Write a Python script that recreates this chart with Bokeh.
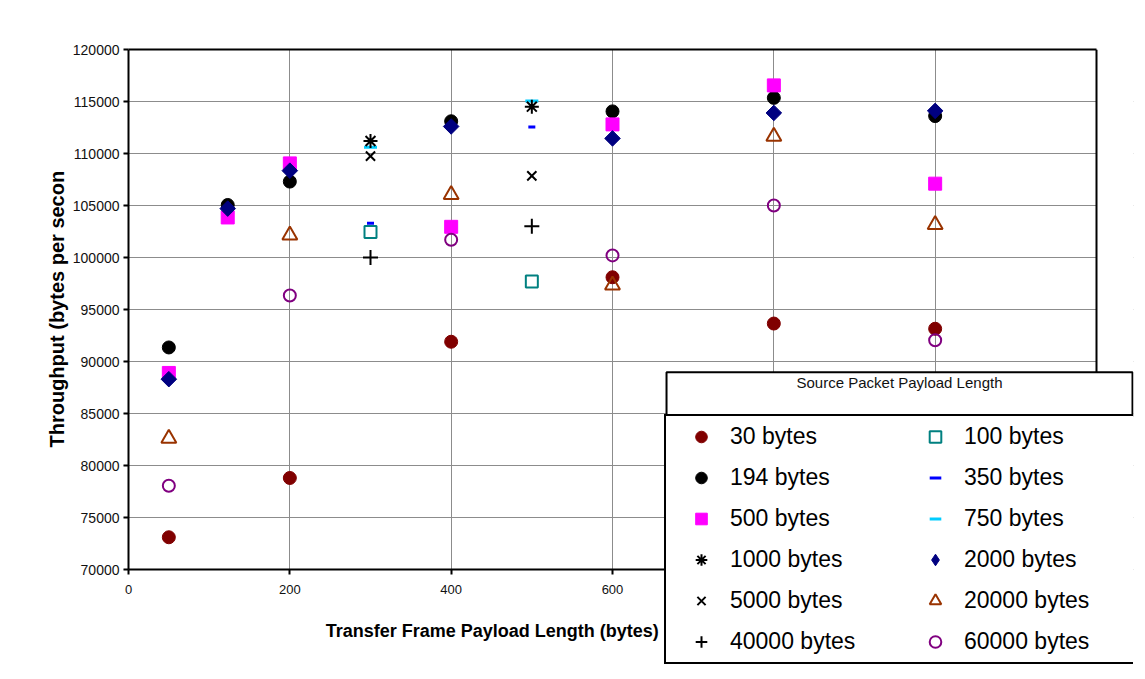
import math
from bokeh.plotting import figure
from bokeh.models import (Range1d, FixedTicker, BasicTickFormatter, Legend, LegendItem, Label,
                          LinearAxis, Grid, BoxAnnotation)
from bokeh.embed import file_html
from bokeh.resources import INLINE

# ---- data ----
x_ticks = [0, 200, 400, 600, 800, 1000, 1200]
y_ticks = [70000, 75000, 80000, 85000, 90000, 95000, 100000, 105000, 110000, 115000, 120000]

x30 = [50, 200, 400, 600, 800, 1000]
y30 = [73100, 78800, 91900, 98100, 93650, 93150]
x100 = [300, 500]
y100 = [102450, 97700]
x194 = [50, 123, 200, 400, 600, 800, 1000]
y194 = [91350, 105050, 107300, 113100, 114050, 115350, 113600]
x350 = [300, 500]
y350 = [103300, 112550]
x500 = [50, 123, 200, 400, 600, 800, 1000]
y500 = [88900, 103850, 109050, 102950, 112800, 116550, 107100]
x750 = [300, 500]
y750 = [110600, 115050]
x1000 = [300, 500]
y1000 = [111200, 114500]
x2000 = [50, 123, 200, 400, 600, 800, 1000]
y2000 = [88300, 104700, 108350, 112600, 111450, 113900, 114100]
x5000 = [300, 500]
y5000 = [109750, 107850]
x20000 = [50, 200, 400, 600, 800, 1000]
y20000 = [82600, 102150, 106050, 97350, 111650, 103150]
x40000 = [300, 500]
y40000 = [100000, 103000]
x60000 = [50, 200, 400, 600, 800, 1000]
y60000 = [78050, 96350, 101700, 100200, 105000, 92050]

FONT = "Liberation Sans"

# plot area: x 0..1200, y 70000..120000; the frame is extended so that the legend block,
# which overhangs the plot area in the reference, is not clipped
X_MIN, X_MAX, Y_MIN, Y_MAX = 0, 1200, 70000, 120000
px_per_x = 968 / 1200.0
px_per_y = 520 / 50000.0
frame_left_extra = 5
frame_right_extra = 37
frame_bottom_extra = 102

p = figure(width=1137, height=671, output_backend="svg", toolbar_location=None,
           x_range=Range1d(X_MIN - frame_left_extra / px_per_x, X_MAX + frame_right_extra / px_per_x),
           y_range=Range1d(Y_MIN - frame_bottom_extra / px_per_y, Y_MAX),
           x_axis_location=None, title_location="left",
           min_border_left=123, min_border_right=4, min_border_top=49, min_border_bottom=0,
           background_fill_color="white", border_fill_color="white")
p.outline_line_color = None

# y-axis title (as a left title so it can be centred on the plot area)
p.title.text = "Throughput (bytes per secon"
p.title.text_font = FONT
p.title.text_font_style = "bold"
p.title.text_font_size = "20px"
p.title.text_color = "black"
p.title.align = "left"
p.title.offset = 224
p.title.standoff = 3

# y ticks and labels (frame edge)
yax = p.yaxis[0]
yax.bounds = (Y_MIN, Y_MAX)
yax.ticker = FixedTicker(ticks=y_ticks)
yax.formatter = BasicTickFormatter(use_scientific=False)
yax.axis_line_color = None
yax.major_tick_line_color = "black"
yax.major_tick_line_width = 2
yax.major_tick_out = 0
yax.major_tick_in = 5
yax.minor_tick_line_color = None
yax.minor_tick_out = 0
yax.minor_tick_in = 0
yax.major_label_text_font = FONT
yax.major_label_text_font_size = "14px"
yax.major_label_text_color = "#111111"
yax.major_label_standoff = 4

# y axis line at x = 0
yline = LinearAxis(ticker=FixedTicker(ticks=[]), bounds=(Y_MIN, Y_MAX), fixed_location=X_MIN,
                   axis_line_color="black", axis_line_width=2,
                   major_tick_out=0, major_tick_in=0, minor_tick_out=0, minor_tick_in=0,
                   major_label_text_font_size="0px")
p.add_layout(yline, "left")

# top border of plot area
top_border = LinearAxis(ticker=FixedTicker(ticks=[]), bounds=(X_MIN, X_MAX),
                        axis_line_color="black", axis_line_width=2,
                        major_tick_out=0, major_tick_in=0, minor_tick_out=0, minor_tick_in=0,
                        major_label_text_font_size="0px")
p.add_layout(top_border, "above")

# x axis, drawn at y = 70000 with ticks and labels below it
xax = LinearAxis(ticker=FixedTicker(ticks=x_ticks), bounds=(X_MIN, X_MAX), fixed_location=Y_MIN,
                 axis_line_color="black", axis_line_width=2,
                 major_tick_line_color="black", major_tick_line_width=2,
                 major_tick_out=0, major_tick_in=5, minor_tick_out=0, minor_tick_in=0,
                 minor_tick_line_color=None,
                 major_label_text_font=FONT, major_label_text_font_size="13px",
                 major_label_text_color="#111111", major_label_standoff=-24)
p.add_layout(xax, "above")

# right border of plot area
right_border = LinearAxis(ticker=FixedTicker(ticks=[]), bounds=(Y_MIN, Y_MAX), fixed_location=X_MAX,
                          axis_line_color="black", axis_line_width=2,
                          major_tick_out=0, major_tick_in=0, minor_tick_out=0, minor_tick_in=0,
                          major_label_text_font_size="0px")
p.add_layout(right_border, "right")

# grids
p.ygrid.ticker = FixedTicker(ticks=y_ticks)
p.ygrid.grid_line_color = "#8c8c8c"
p.ygrid.grid_line_width = 1
xgrid = Grid(dimension=0, ticker=FixedTicker(ticks=x_ticks),
             grid_line_color="#8c8c8c", grid_line_width=1)
p.add_layout(xgrid)

# mask the grid outside the plot area
for box in (BoxAnnotation(top=Y_MIN, fill_color="white", fill_alpha=1, line_color=None, level="underlay"),
            BoxAnnotation(left=X_MAX, fill_color="white", fill_alpha=1, line_color=None, level="underlay"),
            BoxAnnotation(right=X_MIN, fill_color="white", fill_alpha=1, line_color=None, level="underlay")):
    p.add_layout(box)

r30 = p.scatter(x30, y30, marker="circle", size=13, fill_color="#800000", line_color="#800000")
r100 = p.scatter(x100, y100, marker="square", size=12, fill_color=None, line_color="#008080", line_width=2)
r194 = p.scatter(x194, y194, marker="circle", size=13, fill_color="black", line_color="black")
r350 = p.scatter(x350, y350, marker="dash", size=7, line_color="#0000FF", line_width=3)
r500 = p.scatter(x500, y500, marker="square", size=13, fill_color="#FF00FF", line_color="#FF00FF")
r750 = p.scatter(x750, y750, marker="dash", size=13, line_color="#00CCFF", line_width=3)
r1000 = p.scatter(x1000, y1000, marker="asterisk", size=14, line_color="black", line_width=2)
r2000 = p.scatter(x2000, y2000, marker="square", size=11, angle=math.pi / 4,
                  fill_color="#000080", line_color="#000080")
r2000_key = p.scatter(x2000, y2000, marker="diamond", size=15, fill_color="#000080",
                      line_color="#000080", visible=False)
r5000 = p.scatter(x5000, y5000, marker="x", size=13, line_color="black", line_width=2)
r20000 = p.scatter(x20000, y20000, marker="triangle", size=15, fill_color=None,
                   line_color="#993300", line_width=2)
r40000 = p.scatter(x40000, y40000, marker="cross", size=15, line_color="black", line_width=2)
r60000 = p.scatter(x60000, y60000, marker="circle", size=12, fill_color=None,
                   line_color="#800080", line_width=2)

# two columns, filled column by column
items = [
    LegendItem(label="30 bytes", renderers=[r30]),
    LegendItem(label="194 bytes", renderers=[r194]),
    LegendItem(label="500 bytes", renderers=[r500]),
    LegendItem(label="1000 bytes", renderers=[r1000]),
    LegendItem(label="5000 bytes", renderers=[r5000]),
    LegendItem(label="40000 bytes", renderers=[r40000]),
    LegendItem(label="100 bytes", renderers=[r100]),
    LegendItem(label="350 bytes", renderers=[r350]),
    LegendItem(label="750 bytes", renderers=[r750]),
    LegendItem(label="2000 bytes", renderers=[r2000_key]),
    LegendItem(label="20000 bytes", renderers=[r20000]),
    LegendItem(label="60000 bytes", renderers=[r60000]),
]
legend = Legend(items=items, ncols=2, location=(541, 7), margin=0,
                glyph_width=58, glyph_height=29, label_standoff=0,
                label_width=164, label_height=29, spacing=12, padding=6,
                border_line_color="black", border_line_width=2, border_line_alpha=1,
                background_fill_color="white", background_fill_alpha=1,
                inactive_fill_alpha=0,
                label_text_font=FONT, label_text_font_size="23px", label_text_color="black")
p.add_layout(legend, "center")

title_box = Label(x=955.8, y=86846, text="Source Packet Payload Length",
                  text_font=FONT, text_font_size="15px", text_color="#111111",
                  text_align="center", text_baseline="middle",
                  border_line_color="black", border_line_width=2,
                  background_fill_color="white", background_fill_alpha=1,
                  padding=dict(left=130, right=130, top=2, bottom=25))
p.add_layout(title_box)

x_title = Label(x=451, y=64106, text="Transfer Frame Payload Length (bytes)",
                text_font=FONT, text_font_size="18px", text_font_style="bold",
                text_color="black", text_align="center", text_baseline="middle")
p.add_layout(x_title)

open("out.html", "w").write(file_html(p, INLINE))
